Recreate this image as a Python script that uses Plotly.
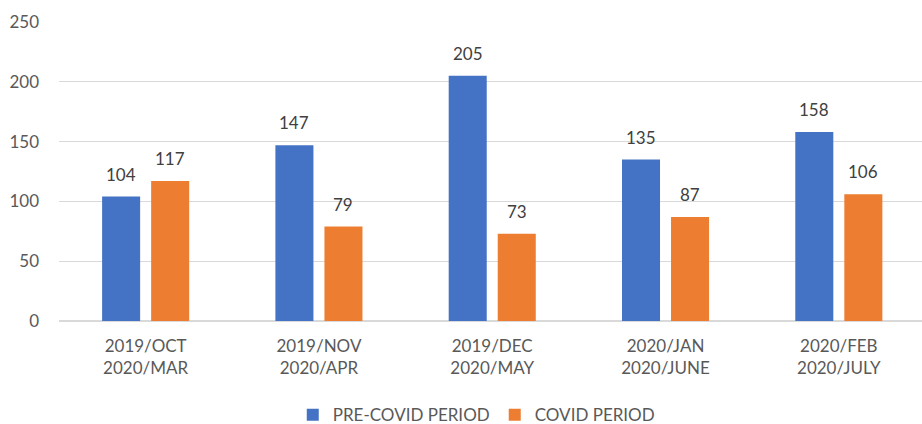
import plotly.graph_objects as go

categories = ["2019/OCT<br>2020/MAR", "2019/NOV<br>2020/APR", "2019/DEC<br>2020/MAY",
              "2020/JAN<br>2020/JUNE", "2020/FEB<br>2020/JULY"]
pre_covid = [104, 147, 205, 135, 158]
covid = [117, 79, 73, 87, 106]
series_names = ["PRE-COVID PERIOD", "COVID PERIOD"]
y_ticks = [0, 50, 100, 150, 200, 250]

FONT = "Lato, 'Open Sans', sans-serif"
GREY = "#595959"

fig = go.Figure()
fig.add_trace(go.Bar(x=categories, y=pre_covid, name=series_names[0],
                     marker=dict(color="#4472C4", line=dict(width=0))))
fig.add_trace(go.Bar(x=categories, y=covid, name=series_names[1],
                     marker=dict(color="#ED7D31", line=dict(width=0))))

# value labels above bars
for vals, shift in ((pre_covid, -24.5), (covid, 24.5)):
    for c, v in zip(categories, vals):
        fig.add_annotation(x=c, y=v, text=str(v), showarrow=False,
                           xshift=shift, yshift=10, yanchor="bottom",
                           font=dict(family=FONT, size=17, color="#404040"))

fig.update_layout(
    width=922, height=424,
    margin=dict(l=59, r=0, t=22, b=103, autoexpand=False),
    paper_bgcolor="white", plot_bgcolor="white",
    barmode="group", bargap=0.434, bargroupgap=0.2245,
    font=dict(family=FONT, size=17, color=GREY),
    showlegend=True,
    legend=dict(orientation="h", x=0.4835, xanchor="center", y=-0.255, yanchor="top",
                font=dict(family=FONT, size=17, color=GREY),
                itemwidth=30, tracegroupgap=0),
)
fig.update_xaxes(range=[-0.5, 4.48], showgrid=False, showline=False, ticks="",
                 automargin=False, ticklabelstandoff=13,
                 tickfont=dict(family=FONT, size=17, color=GREY))
fig.update_yaxes(range=[0, 250], tickvals=y_ticks, showgrid=True, gridcolor="#D9D9D9",
                 gridwidth=1, zeroline=True, zerolinecolor="#D9D9D9", zerolinewidth=2,
                 showline=False, ticks="", ticklabelstandoff=19, automargin=False,
                 tickfont=dict(family=FONT, size=17, color=GREY))

fig.write_html("out.html", config={"displayModeBar": False},
               post_script="document.body.style.margin='0';")
